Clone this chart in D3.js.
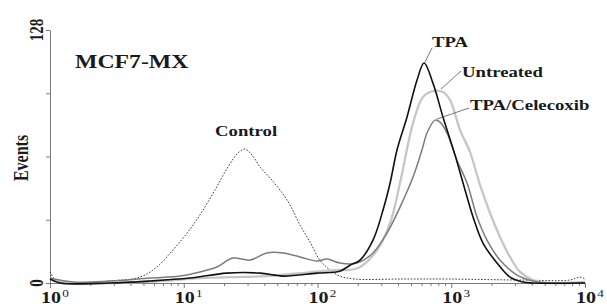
<!DOCTYPE html>
<html lang="en">
<head>
<meta charset="UTF-8">
<title>MCF7-MX flow histogram</title>
<script src="https://d3js.org/d3.v7.min.js"></script>
<style>
  body { margin: 0; background: #fff; }
  svg text { font-family: "Liberation Serif", "Times New Roman", serif; font-weight: bold; fill: #1a1a1a; }
  .axis path, .axis line { stroke: #7a7a7a; stroke-width: 1; }
</style>
</head>
<body>
<svg width="607" height="306"></svg>
<script>
// fluorescence intensity (channel) and event counts
const controlX = [1, 1.15, 1.7, 2.8, 4.7, 6.3, 8.3, 10.6, 13.2, 17.1, 21.4, 25.5, 28.7, 32.4, 37.2, 44.2, 52.5, 62.3, 74, 88, 104, 124, 147, 191, 414, 979, 3266, 7720, 9180, 10000];
const controlY = [5.6, 0.5, 0, 1, 3, 8.1, 16.7, 25.3, 34.4, 47, 58.7, 65.8, 67.8, 64.7, 58.7, 53.1, 47, 39.5, 29.3, 20.7, 11.6, 6.6, 3.5, 2, 2, 2, 1.5, 1.5, 3, 2];

const tpaX = [1, 1.19, 2.8, 5.6, 11.1, 21, 37.2, 55.2, 99, 147, 175, 208, 260, 309, 349, 393, 467, 555, 626, 731, 867, 1067, 1225, 1455, 1727, 2198, 2748, 3439, 4085, 10000];
const tpaY = [2, 0, 0, 1, 2.5, 5, 5, 3.5, 5, 6, 9, 11.6, 21.7, 36.9, 50.6, 67.3, 84, 102.7, 111.3, 101, 84, 64.7, 50.6, 33.4, 20.2, 10.1, 3, 0.5, 0, 0];

const untreatedX = [1, 1.29, 2.81, 6.64, 13.2, 23.3, 41.9, 74, 147, 175, 208, 279, 349, 414, 518, 615, 731, 867, 979, 1162, 1380, 1641, 1949, 2314, 2748, 3266, 4085, 5200, 10000];
const untreatedY = [2.5, 0, 0, 1, 2.5, 3, 3.5, 5, 6.6, 6.6, 8.1, 16.7, 30.3, 50.6, 80.9, 94.1, 97.1, 96.6, 92.6, 77.5, 66.3, 49.6, 35.4, 23.3, 13.2, 5.6, 1.5, 0, 0.5];

const celecoxibX = [1, 1.5, 2.81, 5.6, 9.4, 13.2, 17.7, 23.3, 31.3, 41.9, 55.2, 74, 99, 118, 147, 197, 260, 331, 414, 518, 604, 659, 756, 824, 929, 1105, 1312, 1560, 1850, 2314, 3102, 4085, 5200, 10000];
const celecoxibY = [2.5, 0.5, 1, 2.5, 3.5, 5.6, 8.1, 12.6, 11.6, 15.2, 15.2, 13.2, 11.1, 12.1, 10.1, 10.1, 15.2, 25.3, 38.4, 53.6, 67.3, 75.9, 82.4, 81.4, 75.9, 62, 50.6, 33.4, 21.7, 11.6, 4, 1, 0, 0];

const yTicks = [0, 32, 64, 96, 128];
const yLabels = ["0", "128"];
const xDecades = [1, 10, 100, 1000, 10000];
const xExponents = ["0", "1", "2", "3", "4"];

const svg = d3.select("svg");
const stretch = 1.25; // the figure is drawn wider than its type

const x = d3.scaleLog().domain([1, 10000]).range([50, 585]);
const y = d3.scaleLinear().domain([0, 128]).range([283, 30]);

// y axis
svg.append("g")
    .attr("class", "axis")
    .attr("transform", "translate(50,0)")
    .call(d3.axisLeft(y).tickValues(yTicks).tickSize(4).tickSizeOuter(0).tickFormat(""));

// x axis, minor ticks 2..9 in each decade
var minor = [];
xDecades.slice(0, 4).forEach(d => { for (var k = 1; k < 10; k++) minor.push(d * k); });
minor.push(10000);
var xg = svg.append("g")
    .attr("class", "axis")
    .attr("transform", "translate(0,283)")
    .call(d3.axisBottom(x).tickValues(minor).tickSize(3).tickSizeOuter(0).tickFormat(""));
xg.selectAll(".tick line").attr("y2", d => xDecades.includes(d) ? 5 : 3);

// x tick labels 10^n
xDecades.forEach(function(d, i) {
    var t = svg.append("text")
        .attr("transform", "translate(" + (x(d) + 5) + ",303) scale(" + stretch + ",1)")
        .attr("text-anchor", "middle");
    t.append("tspan").attr("font-size", 16).text("10");
    t.append("tspan").attr("font-size", 10.5).attr("font-weight", "normal").attr("dy", -6).attr("dx", 1).text(xExponents[i]);
});

// y tick labels and title, rotated
[[0, yLabels[0]], [128, yLabels[1]]].forEach(function(p) {
    svg.append("text")
        .attr("transform", "translate(43," + y(p[0]) + ") scale(" + stretch + ",1) rotate(-90)")
        .attr("text-anchor", "middle")
        .attr("font-size", 15)
        .text(p[1]);
});
svg.append("text")
    .attr("transform", "translate(28,158) scale(" + stretch + ",1) rotate(-90)")
    .attr("text-anchor", "middle")
    .attr("font-size", 16)
    .text("Events");

// histograms
var line = d3.line()
    .x(d => x(d[0]))
    .y(d => Math.min(y(d[1]), 283))
    .curve(d3.curveCatmullRom.alpha(0.5));

var series = [
    {xs: controlX, ys: controlY, color: "#3a3a3a", width: 1, dash: "1.6,1.6"},
    {xs: untreatedX, ys: untreatedY, color: "#c6c6c6", width: 2.3, dash: null},
    {xs: celecoxibX, ys: celecoxibY, color: "#7c7c7c", width: 1.5, dash: null},
    {xs: tpaX, ys: tpaY, color: "#111111", width: 1.6, dash: null}
];
series.forEach(function(s) {
    svg.append("path")
        .datum(d3.zip(s.xs, s.ys))
        .attr("d", line)
        .attr("fill", "none")
        .attr("stroke", s.color)
        .attr("stroke-width", s.width)
        .attr("stroke-dasharray", s.dash)
        .attr("stroke-linejoin", "round");
});

// leader lines from the labels to the peaks
var leaders = [[432, 48, 425, 62], [461, 71, 441, 89], [469, 108, 437, 119]];
leaders.forEach(function(l) {
    svg.append("line")
        .attr("x1", l[0]).attr("y1", l[1]).attr("x2", l[2]).attr("y2", l[3])
        .attr("stroke", "#555").attr("stroke-width", 0.8);
});

// labels
var labels = [
    {text: "MCF7-MX", x: 75, y: 68, size: 19},
    {text: "TPA", x: 432, y: 47, size: 15},
    {text: "Untreated", x: 462, y: 77, size: 15},
    {text: "TPA/Celecoxib", x: 470, y: 110, size: 15},
    {text: "Control", x: 215, y: 136, size: 15}
];
labels.forEach(function(l) {
    svg.append("text")
        .attr("transform", "translate(" + l.x + "," + l.y + ") scale(" + stretch + ",1)")
        .attr("font-size", l.size)
        .text(l.text);
});
</script>
</body>
</html>
